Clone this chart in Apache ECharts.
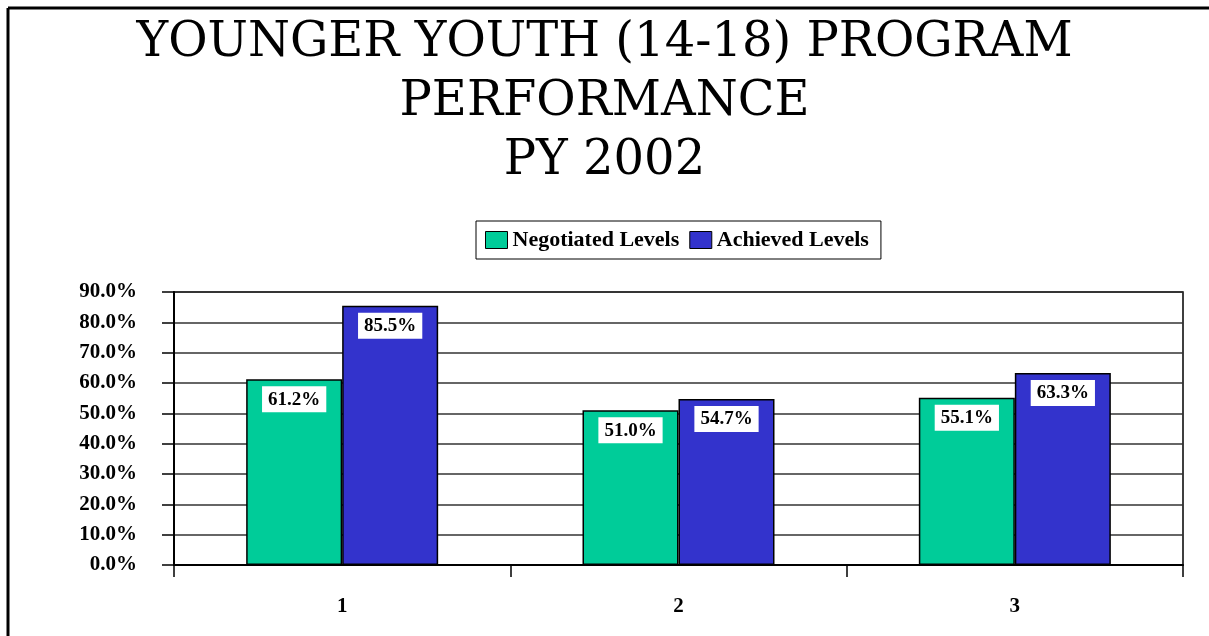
<!DOCTYPE html>
<html>
<head>
<meta charset="utf-8">
<script src="https://cdn.jsdelivr.net/npm/echarts@6/dist/echarts.min.js"></script>
<style>
  html, body { margin: 0; padding: 0; background: #fff; }
  #perfChart { width: 1209px; height: 636px; }
</style>
</head>
<body>
<div id="perfChart"></div>
<script>
// data
var categories = ['1', '2', '3'];
var negotiated = [61.2, 51.0, 55.1];
var achieved = [85.5, 54.7, 63.3];
var seriesNames = ['Negotiated Levels', 'Achieved Levels'];
var titleText = 'YOUNGER YOUTH (14-18) PROGRAM\nPERFORMANCE\nPY 2002';

var perfChart = echarts.init(document.getElementById('perfChart'));

var serif = '"Liberation Serif", "Times New Roman", serif';

// label on top of each bar, white box
var barLabel = {
    show: true,
    position: 'insideTop',
    distance: 7,
    backgroundColor: '#fff',
    padding: [4, 6, 3, 6],
    color: '#000',
    fontFamily: serif,
    fontWeight: 'bold',
    fontSize: 19,
    formatter: function (p) { return p.value.toFixed(1) + '%'; }
};

var option = {
    animation: false,
    backgroundColor: '#fff',
    color: ['#00CC99', '#3333CC'],
    title: {
        text: titleText,
        left: 'center',
        top: 9,
        textStyle: {
            fontFamily: '"DejaVu Serif", serif',
            fontWeight: 'normal',
            fontSize: 48,
            lineHeight: 59,
            color: '#000'
        }
    },
    legend: {
        data: seriesNames,
        left: 476,
        top: 221,
        padding: [8, 12, 8, 9],
        itemGap: 10,
        itemWidth: 22,
        itemHeight: 17,
        icon: 'rect',
        borderColor: '#000',
        borderWidth: 1,
        itemStyle: { borderColor: '#000', borderWidth: 1 },
        textStyle: {
            fontFamily: serif,
            fontWeight: 'bold',
            fontSize: 22,
            color: '#000'
        }
    },
    grid: {
        left: 174,
        right: 26,
        top: 292,
        bottom: 71,
        show: true,
        borderColor: '#000',
        borderWidth: 1.5,
        backgroundColor: 'transparent'
    },
    xAxis: {
        type: 'category',
        data: categories,
        axisLine: { lineStyle: { color: '#000', width: 2 } },
        axisTick: { show: true, length: 12, lineStyle: { color: '#000', width: 1.5 } },
        axisLabel: {
            margin: 31,
            color: '#000',
            fontFamily: serif,
            fontWeight: 'bold',
            fontSize: 21
        }
    },
    yAxis: {
        type: 'value',
        min: 0,
        max: 90,
        interval: 10,
        axisLine: { show: true, lineStyle: { color: '#000', width: 2 } },
        axisTick: { show: true, length: 12, lineStyle: { color: '#000', width: 1.5 } },
        splitLine: { lineStyle: { color: '#333', width: 1.5 } },
        axisLabel: {
            margin: 37,
            color: '#000',
            fontFamily: serif,
            fontWeight: 'bold',
            fontSize: 21,
            formatter: function (v) { return v.toFixed(1) + '%'; }
        }
    },
    series: [
        {
            name: seriesNames[0],
            type: 'bar',
            data: negotiated,
            barWidth: 96,
            barGap: '0%',
            itemStyle: { borderColor: '#000', borderWidth: 1.5 },
            label: barLabel
        },
        {
            name: seriesNames[1],
            type: 'bar',
            data: achieved,
            barWidth: 96,
            barGap: '0%',
            itemStyle: { borderColor: '#000', borderWidth: 1.5 },
            label: barLabel
        }
    ],
    // outer frame (top and left edges only)
    graphic: [
        { type: 'line', shape: { x1: 8, y1: 8, x2: 1209, y2: 8 }, style: { stroke: '#000', lineWidth: 3 } },
        { type: 'line', shape: { x1: 8, y1: 8, x2: 8, y2: 636 }, style: { stroke: '#000', lineWidth: 3 } }
    ]
};

perfChart.setOption(option);
</script>
</body>
</html>
